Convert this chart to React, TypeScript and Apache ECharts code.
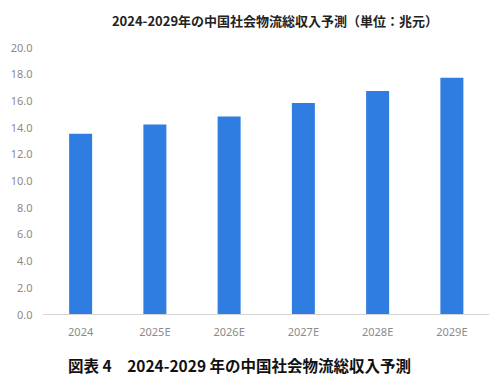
import React, { useEffect, useRef } from "react";
import * as echarts from "echarts";

const categories = ["2024", "2025E", "2026E", "2027E", "2028E", "2029E"];
const values = [13.5, 14.2, 14.8, 15.8, 16.7, 17.7];
const titleText = "2024-2029年の中国社会物流総収入予測（単位：兆元）";
const captionText = "図表 4　2024-2029 年の中国社会物流総収入予測";

export default function App() {
  const ref = useRef<HTMLDivElement>(null);
  useEffect(() => {
    document.body.style.margin = "0";
    const chart = echarts.init(ref.current!, null, { renderer: "svg" });
    chart.setOption({
      animation: false,
      backgroundColor: "#ffffff",
      title: [
        {
          text: titleText,
          left: 270,
          top: 9,
          textAlign: "center",
          textStyle: {
            fontFamily: "Noto Sans CJK JP",
            fontSize: 13,
            fontWeight: "bold",
            color: "#222",
          },
        },
        {
          text: captionText,
          left: 63,
          top: 352,
          padding: 5,
          textStyle: {
            fontFamily: "Noto Sans CJK JP",
            fontSize: 15.5,
            fontWeight: "bold",
            color: "#111",
          },
        },
      ],
      grid: { left: 43.5, right: 6, top: 47, bottom: 65 },
      xAxis: {
        type: "category",
        data: categories,
        axisLine: { lineStyle: { color: "#d5d5d5" } },
        axisTick: { show: false },
        axisLabel: {
          color: "#8a8a8a",
          fontSize: 11,
          margin: 12,
          fontFamily: "Noto Sans",
        },
      },
      yAxis: {
        type: "value",
        min: 0,
        max: 20,
        interval: 2,
        axisLine: { show: false },
        axisTick: { show: false },
        splitLine: { show: false },
        axisLabel: {
          color: "#8a8a8a",
          fontSize: 11,
          margin: 11,
          fontFamily: "Noto Sans",
          formatter: (v: number) => v.toFixed(1),
        },
      },
      series: [
        {
          type: "bar",
          data: values,
          barWidth: 23,
          itemStyle: { color: "#2F7DE1" },
        },
      ],
    });
    return () => chart.dispose();
  }, []);
  return <div ref={ref} style={{ width: 495, height: 379 }} />;
}
